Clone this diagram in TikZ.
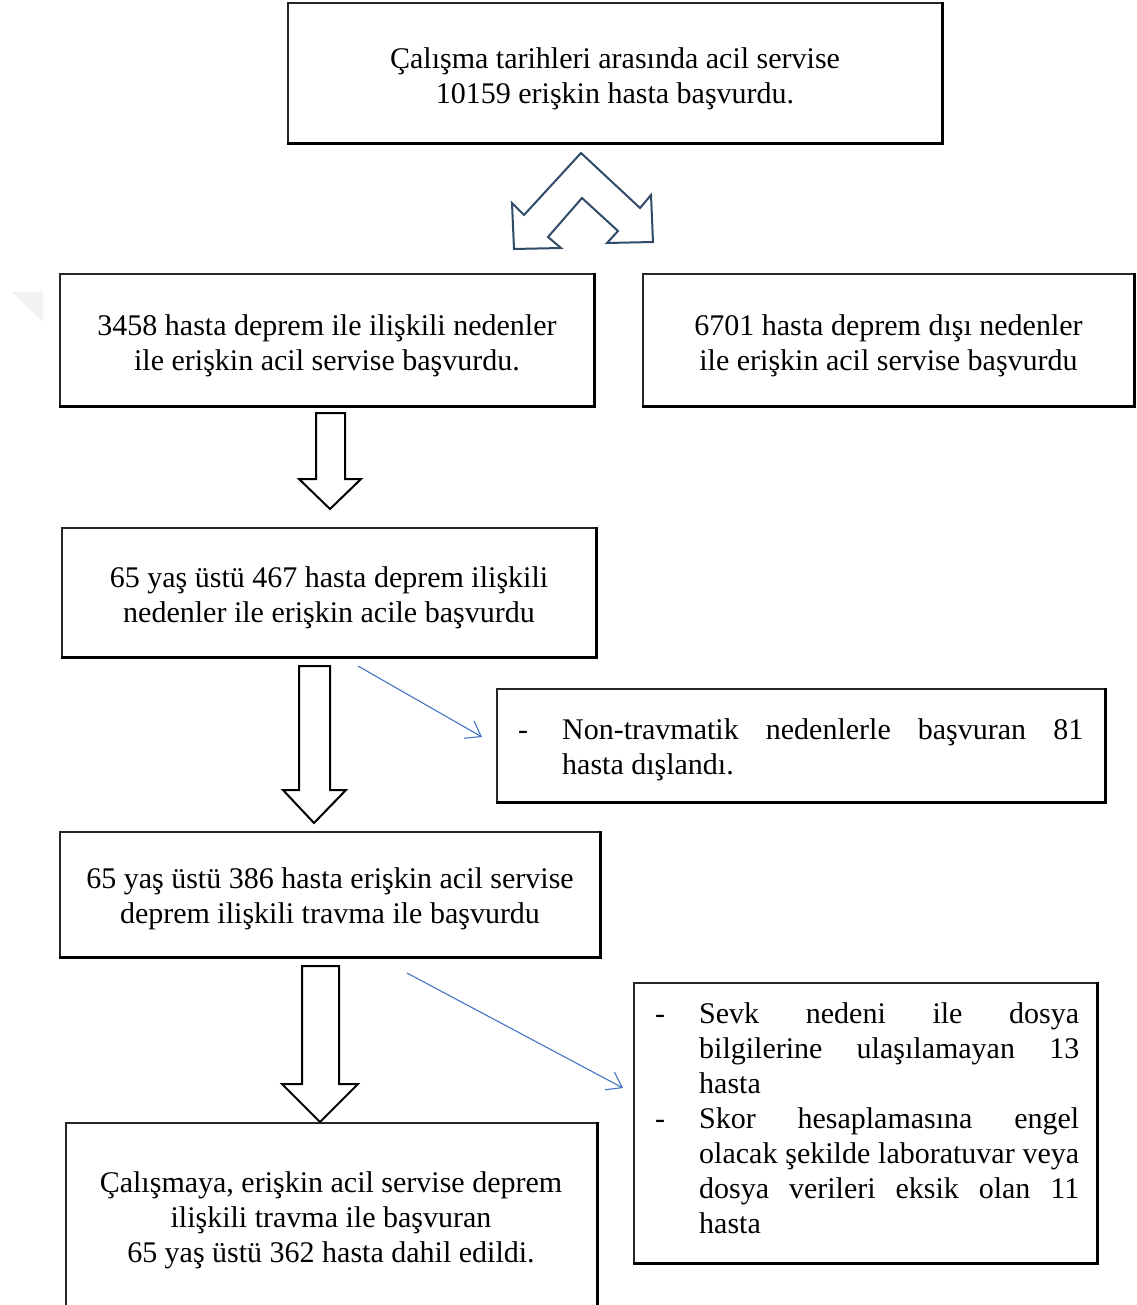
\documentclass[tikz,border=0pt]{standalone}
\usepackage{fontspec}
\setmainfont{Liberation Serif}
\usetikzlibrary{arrows.meta}
\definecolor{splitblue}{HTML}{2F4B68}
\definecolor{linkblue}{HTML}{4472C4}
\begin{document}
\begin{tikzpicture}[x=1pt,y=-1pt,
  txt/.style={font=\fontsize{30}{35}\selectfont, inner sep=0pt},
  box/.style={draw=black!85, line width=1.3pt, fill=white, inner sep=0pt},
  blockarrow/.style={draw=black, line width=2pt, fill=white, line join=miter},
  link/.style={draw=linkblue, line width=1.1pt, -{Straight Barb[length=14pt,width=20pt,line width=1.1pt]}}
]
\useasboundingbox (0,0) rectangle (1136,1305);

% faint watermark corner
\fill[gray!10] (12,292) -- (43,292) -- (43,322) -- cycle;

% boxes
\node[box, minimum width=654pt, minimum height=140pt] (b1) at (615,73) {};
\node[box, minimum width=534pt, minimum height=132pt] (b2) at (327,340) {};
\node[box, minimum width=491pt, minimum height=132pt] (b3) at (888.5,340) {};
\node[box, minimum width=534pt, minimum height=129pt] (b4) at (329,592.5) {};
\node[box, minimum width=608pt, minimum height=113pt] (x1) at (801,745.5) {};
\node[box, minimum width=540pt, minimum height=125pt] (b5) at (330,894.5) {};
\node[box, minimum width=463pt, minimum height=280pt] (x2) at (865.5,1123) {};
\node[box, minimum width=531pt, minimum height=197pt] (b6) at (331.5,1221.5) {};

\foreach \n in {b1,b2,b3,b4,x1,b5,x2,b6}
  \draw[line width=2.6pt, line join=miter] (\n.north east) -- (\n.south east) -- (\n.south west);

% box texts
\node[txt, align=center] (tb1) at (615,78.5)
  {Çalışma tarihleri arasında acil servise\\10159 erişkin hasta başvurdu.};
\node[txt, align=center] (tb2) at (327,345.5)
  {3458 hasta deprem ile ilişkili nedenler\\ile erişkin acil servise başvurdu.};
\node[txt, align=center] (tb3) at (888.5,345.5)
  {6701 hasta deprem dışı nedenler\\ile erişkin acil servise başvurdu};
\node[txt, align=center] (tb4) at (329,597.5)
  {65 yaş üstü 467 hasta deprem ilişkili\\nedenler ile erişkin acile başvurdu};
\node[txt, align=center] (tb5) at (330,899)
  {65 yaş üstü 386 hasta erişkin acil servise\\deprem ilişkili travma ile başvurdu};
\node[txt, align=center] (tb6) at (331,1220)
  {Çalışmaya, erişkin acil servise deprem\\ilişkili travma ile başvuran\\65 yaş üstü 362 hasta dahil edildi.};

% texts in exclusion boxes
\node[txt, anchor=west, align=left] (t1) at (518,749.5)
  {\makebox[44pt][l]{-}\makebox[521pt][s]{Non-travmatik nedenlerle başvuran 81}\\
   \hspace*{44pt}hasta dışlandı.};
\node[txt, anchor=west, align=left] (t2) at (655,1118)
  {\makebox[44pt][l]{-}\makebox[380pt][s]{Sevk nedeni ile dosya}\\
   \hspace*{44pt}\makebox[380pt][s]{bilgilerine ulaşılamayan 13}\\
   \hspace*{44pt}hasta\\
   \makebox[44pt][l]{-}\makebox[380pt][s]{Skor hesaplamasına engel}\\
   \hspace*{44pt}\makebox[380pt][s]{olacak şekilde laboratuvar veya}\\
   \hspace*{44pt}\makebox[380pt][s]{dosya verileri eksik olan 11}\\
   \hspace*{44pt}hasta};

% split arrow
\draw[draw=splitblue, line width=2pt, fill=white, line join=miter]
  (581,153) -- (640,208) -- (651,195) -- (653,242) -- (607,243) -- (618,231)
  -- (582,198) -- (548,237) -- (561,248) -- (514,249) -- (512,203) -- (524,215) -- cycle;

% block arrows
\draw[blockarrow] (316,413) -- (345,413) -- (345,479) -- (361,479) -- (330,509)
  -- (299,479) -- (316,479) -- cycle;
\draw[blockarrow] (299,666) -- (330,666) -- (330,790) -- (346,790) -- (314,823)
  -- (283,790) -- (299,790) -- cycle;
\draw[blockarrow] (302,966) -- (339,966) -- (339,1084) -- (358,1084) -- (320,1122)
  -- (282,1084) -- (302,1084) -- cycle;

% thin blue connectors
\coordinate (l1s) at (358,666);
\coordinate (l1e) at (482,737);
\coordinate (l2s) at (407,973);
\coordinate (l2e) at (623,1088);
\draw[link] (l1s) -- (l1e);
\draw[link] (l2s) -- (l2e);
\end{tikzpicture}
\end{document}
